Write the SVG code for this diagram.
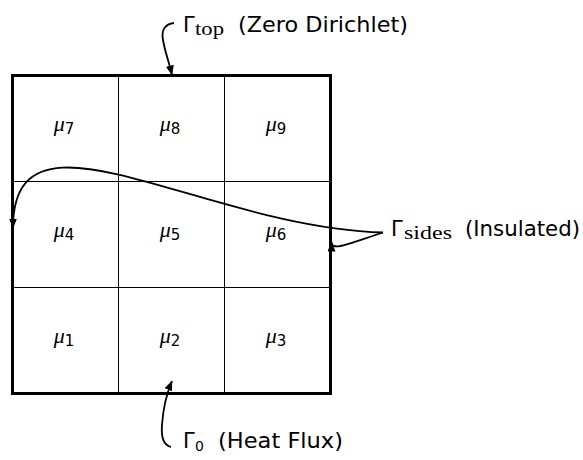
<svg xmlns="http://www.w3.org/2000/svg" width="583" height="460" viewBox="0 0 583 460">
<defs>
<style>
.frame{fill:none;stroke:#000;stroke-width:3}
.grid{fill:none;stroke:#000;stroke-width:1}
.conn{fill:none;stroke:#000;stroke-width:1.8}
.mu{font-family:"Liberation Serif",serif;font-style:italic;font-size:22px;fill:#000}
.musub{font-family:"DejaVu Sans",sans-serif;font-style:normal;font-size:15px}
.lbl{font-family:"DejaVu Sans",sans-serif;font-size:21px;fill:#000}
.sub{font-family:"Liberation Serif",serif;font-size:18px;fill:#000}
.dig{font-family:"DejaVu Sans",sans-serif;font-size:14px;fill:#000}
</style>
<marker id="ah" markerUnits="userSpaceOnUse" markerWidth="10" markerHeight="8" refX="9.5" refY="4" orient="auto">
<path d="M0,0 L10,4 L0,8 Z" fill="#000"/>
</marker>
</defs>
<rect width="583" height="460" fill="#fff"/>
<g id="domain">
<line class="grid" x1="118.5" y1="75.5" x2="118.5" y2="393.5"/>
<line class="grid" x1="224.5" y1="75.5" x2="224.5" y2="393.5"/>
<line class="grid" x1="12.5" y1="181.5" x2="330.5" y2="181.5"/>
<line class="grid" x1="12.5" y1="287.5" x2="330.5" y2="287.5"/>
<rect class="frame" x="12.5" y="75.5" width="318" height="318"/>
</g>
<g id="cell7"><text class="mu" x="64" y="131" text-anchor="middle">μ<tspan class="musub" dy="3">7</tspan></text></g>
<g id="cell8"><text class="mu" x="170" y="131" text-anchor="middle">μ<tspan class="musub" dy="3">8</tspan></text></g>
<g id="cell9"><text class="mu" x="276" y="131" text-anchor="middle">μ<tspan class="musub" dy="3">9</tspan></text></g>
<g id="cell4"><text class="mu" x="64" y="237" text-anchor="middle">μ<tspan class="musub" dy="3">4</tspan></text></g>
<g id="cell5"><text class="mu" x="170" y="237" text-anchor="middle">μ<tspan class="musub" dy="3">5</tspan></text></g>
<g id="cell6"><text class="mu" x="276" y="237" text-anchor="middle">μ<tspan class="musub" dy="3">6</tspan></text></g>
<g id="cell1"><text class="mu" x="64" y="343" text-anchor="middle">μ<tspan class="musub" dy="3">1</tspan></text></g>
<g id="cell2"><text class="mu" x="170" y="343" text-anchor="middle">μ<tspan class="musub" dy="3">2</tspan></text></g>
<g id="cell3"><text class="mu" x="276" y="343" text-anchor="middle">μ<tspan class="musub" dy="3">3</tspan></text></g>
<g id="label-top">
<text class="lbl" x="183" y="32">Γ</text>
<text class="sub" x="195" y="35" textLength="29" lengthAdjust="spacingAndGlyphs">top</text>
<text class="lbl" x="238" y="32" textLength="170" lengthAdjust="spacingAndGlyphs">(Zero Dirichlet)</text>
</g>
<g id="label-sides">
<text class="lbl" x="391" y="236">Γ</text>
<text class="sub" x="404" y="239" textLength="48" lengthAdjust="spacingAndGlyphs">sides</text>
<text class="lbl" x="465" y="236" textLength="115" lengthAdjust="spacingAndGlyphs">(Insulated)</text>
</g>
<g id="label-bottom">
<text class="lbl" x="183" y="448">Γ</text>
<text class="dig" x="195" y="451">0</text>
<text class="lbl" x="218" y="448" textLength="125" lengthAdjust="spacingAndGlyphs">(Heat Flux)</text>
</g>
<g id="connectors">
<path class="conn" d="M174,23 C165,24 161,30 163,40 C165,52 169,62 172,75" marker-end="url(#ah)"/>
<path class="conn" d="M171,447 C163,445 161,437 162,425 C163,410 166,395 172,381" marker-end="url(#ah)"/>
<path class="conn" d="M383,232.5 C200,227 13,92 13,228" marker-end="url(#ah)"/>
<path class="conn" d="M383,232.5 C350,243 331.5,252 331.5,242" marker-end="url(#ah)"/>
</g>
</svg>
